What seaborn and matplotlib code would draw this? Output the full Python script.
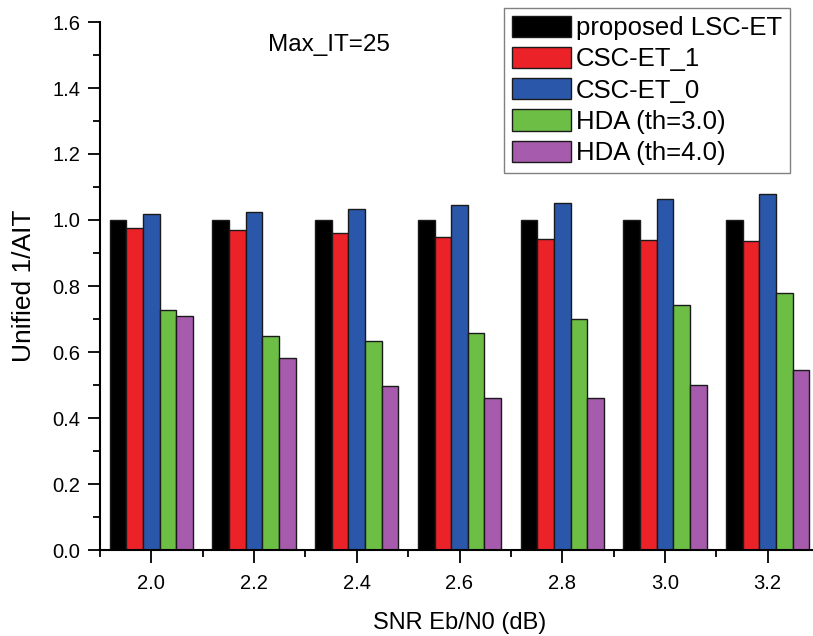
import matplotlib
matplotlib.use("Agg")
import matplotlib.pyplot as plt
import seaborn as sns
import pandas as pd
from matplotlib.ticker import MultipleLocator, FixedLocator

snr = ["2.0", "2.2", "2.4", "2.6", "2.8", "3.0", "3.2"]
series = ["proposed LSC-ET", "CSC-ET_1", "CSC-ET_0", "HDA (th=3.0)", "HDA (th=4.0)"]
lsc_et = [1.0, 1.0, 1.0, 1.0, 1.0, 1.0, 1.0]
csc_et_1 = [0.977, 0.969, 0.960, 0.949, 0.943, 0.939, 0.935]
csc_et_0 = [1.017, 1.025, 1.033, 1.045, 1.053, 1.065, 1.079]
hda_30 = [0.726, 0.648, 0.632, 0.658, 0.700, 0.743, 0.780]
hda_40 = [0.708, 0.582, 0.497, 0.460, 0.462, 0.500, 0.545]
colors = ["#000000", "#EC2229", "#2B57AA", "#6CBE45", "#A65BAD"]

values = [lsc_et, csc_et_1, csc_et_0, hda_30, hda_40]
rows = []
for name, vals in zip(series, values):
    for s, v in zip(snr, vals):
        rows.append({"SNR": s, "series": name, "value": v})
df = pd.DataFrame(rows)

sns.set_style("ticks")
plt.rcParams["font.family"] = ["Liberation Sans", "DejaVu Sans"]
plt.rcParams["text.color"] = "black"
plt.rcParams["axes.labelcolor"] = "black"
plt.rcParams["xtick.color"] = "black"
plt.rcParams["ytick.color"] = "black"

fig = plt.figure(figsize=(8.13, 6.36), dpi=100)
ax = fig.add_axes([100 / 813, 1 - 550 / 636, 719 / 813, 528 / 636])

sns.barplot(data=df, x="SNR", y="value", hue="series", order=snr,
            hue_order=series, palette=colors, width=0.81, ax=ax,
            edgecolor="#1a1a1a", linewidth=1.0, saturation=1)

ax.set_ylim(0, 1.6)
ax.set_xlim(-0.5, 6.5)
ax.yaxis.set_major_locator(MultipleLocator(0.2))
ax.yaxis.set_minor_locator(MultipleLocator(0.1))
ax.xaxis.set_minor_locator(FixedLocator([i - 0.5 for i in range(8)]))
ax.set_yticklabels([f"{v:.1f}" for v in ax.get_yticks()])
ax.tick_params(axis="both", which="major", direction="out", length=9,
               width=1.3, labelsize=14.5, colors="black", pad=5)
ax.tick_params(axis="x", which="major", pad=8)
ax.tick_params(axis="both", which="minor", direction="out", length=5,
               width=1.3, colors="black")
for side in ["top", "right"]:
    ax.spines[side].set_visible(False)
for side in ["left", "bottom"]:
    ax.spines[side].set_linewidth(1.5)
    ax.spines[side].set_color("black")

ax.set_xlabel("SNR Eb/N0 (dB)", fontsize=17, labelpad=14, color="black")
ax.set_ylabel("Unified 1/AIT", fontsize=19, labelpad=12, color="black")

ax.text(329 / 813, 1 - 45 / 636, "Max_IT=25", transform=fig.transFigure,
        ha="center", va="center", fontsize=17.5, color="black")

handles, labels = ax.get_legend_handles_labels()
leg = ax.legend(handles, labels, loc="upper right",
                bbox_to_anchor=(790 / 813, 1 - 8 / 636),
                bbox_transform=fig.transFigure, fontsize=18.5,
                frameon=True, fancybox=False, framealpha=1,
                edgecolor="#808080", handlelength=2.3, handleheight=0.9,
                handletextpad=0.2, labelspacing=0.26, borderpad=0.3,
                borderaxespad=0)
leg.get_frame().set_linewidth(1.0)
for t in leg.get_texts():
    t.set_color("black")

fig.savefig("out.png", dpi=100)
